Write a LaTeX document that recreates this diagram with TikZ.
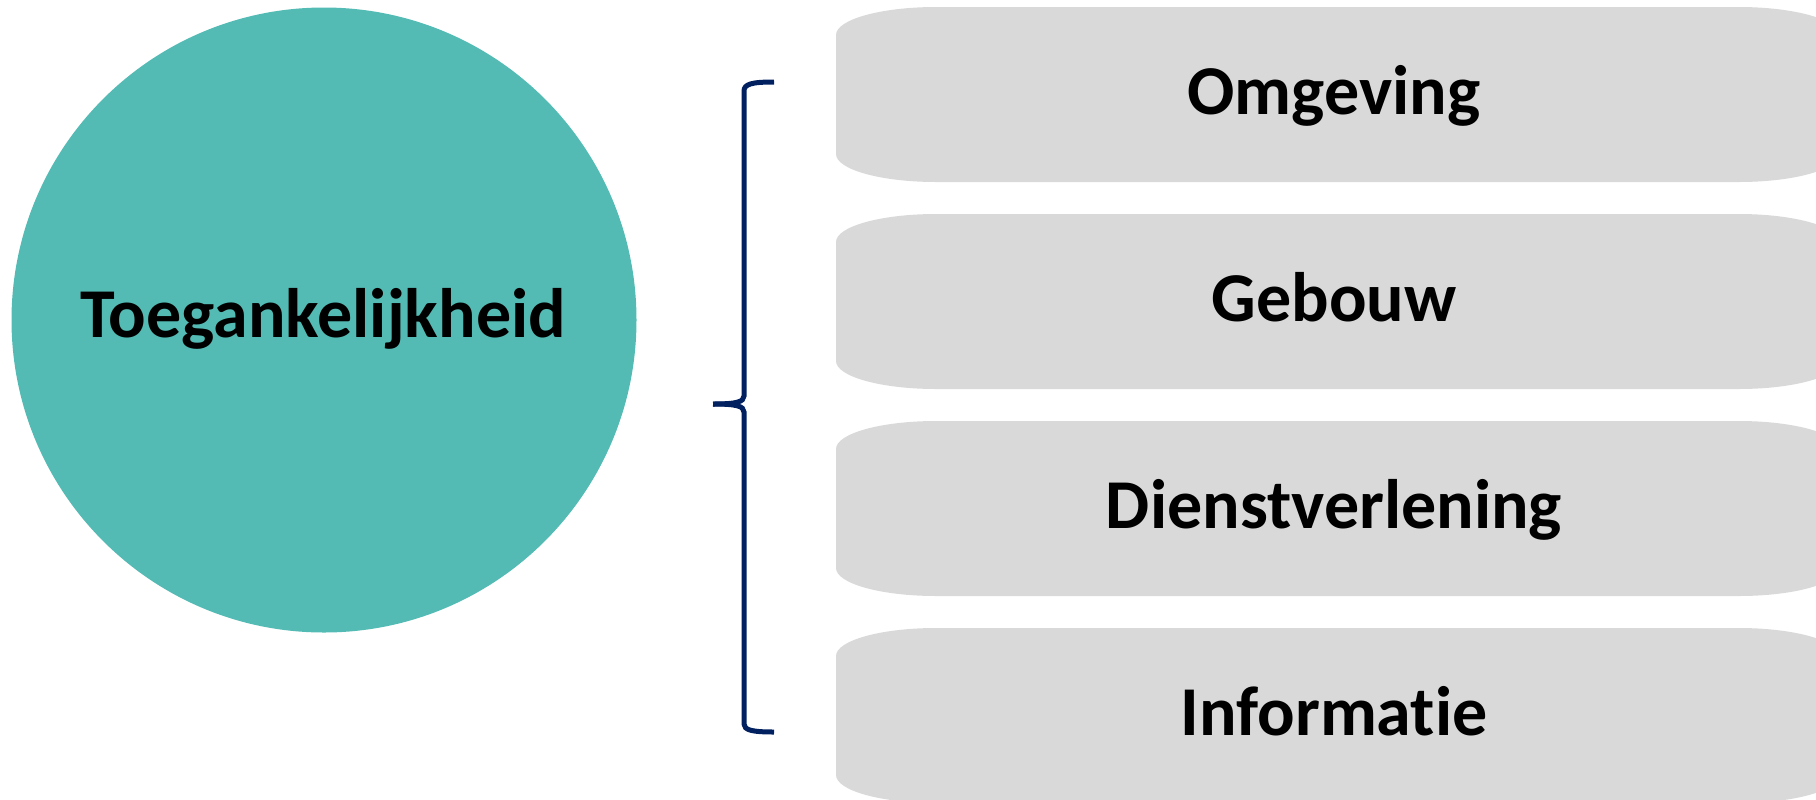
\documentclass[tikz,border=0pt]{standalone}
\usepackage{fontspec}
\setmainfont{Carlito}[Ligatures=NoCommon]
\definecolor{tealfill}{HTML}{53BBB4}
\definecolor{boxgrey}{HTML}{D9D9D9}
\definecolor{bracenavy}{HTML}{002060}
\tikzset{
  label/.style={font=\fontsize{35}{40}\selectfont\bfseries, text=black},
  pillbox/.style={fill=boxgrey},
  bracket/.style={draw=bracenavy, line width=2.5pt, line join=miter}
}
\newcommand{\pill}[2]{% top and bottom in px
  \fill[pillbox] (836,-#1-28) arc[x radius=100, y radius=28, start angle=180, end angle=90]
    -- (1739,-#1) arc[x radius=100, y radius=28, start angle=90, end angle=0]
    -- (1839,-#2+28) arc[x radius=100, y radius=28, start angle=0, end angle=-90]
    -- (936,-#2) arc[x radius=100, y radius=28, start angle=-90, end angle=-180] -- cycle;
}

\begin{document}
\begin{tikzpicture}[x=0.5pt, y=0.5pt]
    \useasboundingbox (0,0) rectangle (1816,-799);
    \node [circle, fill=tealfill, minimum size=312.5pt, inner sep=0pt] (kring) at (324,-320) {};
    \node [label, anchor=base] (toeg) at (323,-337) {Toegankelijkheid};
    \pill{7}{182}
    \pill{214}{389}
    \pill{421}{596}
    \pill{628}{803}
    \node [label, anchor=base] (omgeving) at (1334,-114) {Omgeving};
    \node [label, anchor=base] (gebouw) at (1334,-321) {Gebouw};
    \node [label, anchor=base] (dienst) at (1334,-528) {Dienstverlening};
    \node [label, anchor=base] (info) at (1334,-735) {Informatie};
    % accolade
    \draw [bracket] (774,-82) .. controls (752,-82) and (744,-84) .. (744,-91) -- (744,-396)
      .. controls (744,-402) and (736,-404) .. (713,-404);
    \draw [bracket] (713,-404) .. controls (736,-404) and (744,-406) .. (744,-412) -- (744,-724)
      .. controls (744,-730) and (752,-732) .. (774,-732);
  \end{tikzpicture}
\end{document}
